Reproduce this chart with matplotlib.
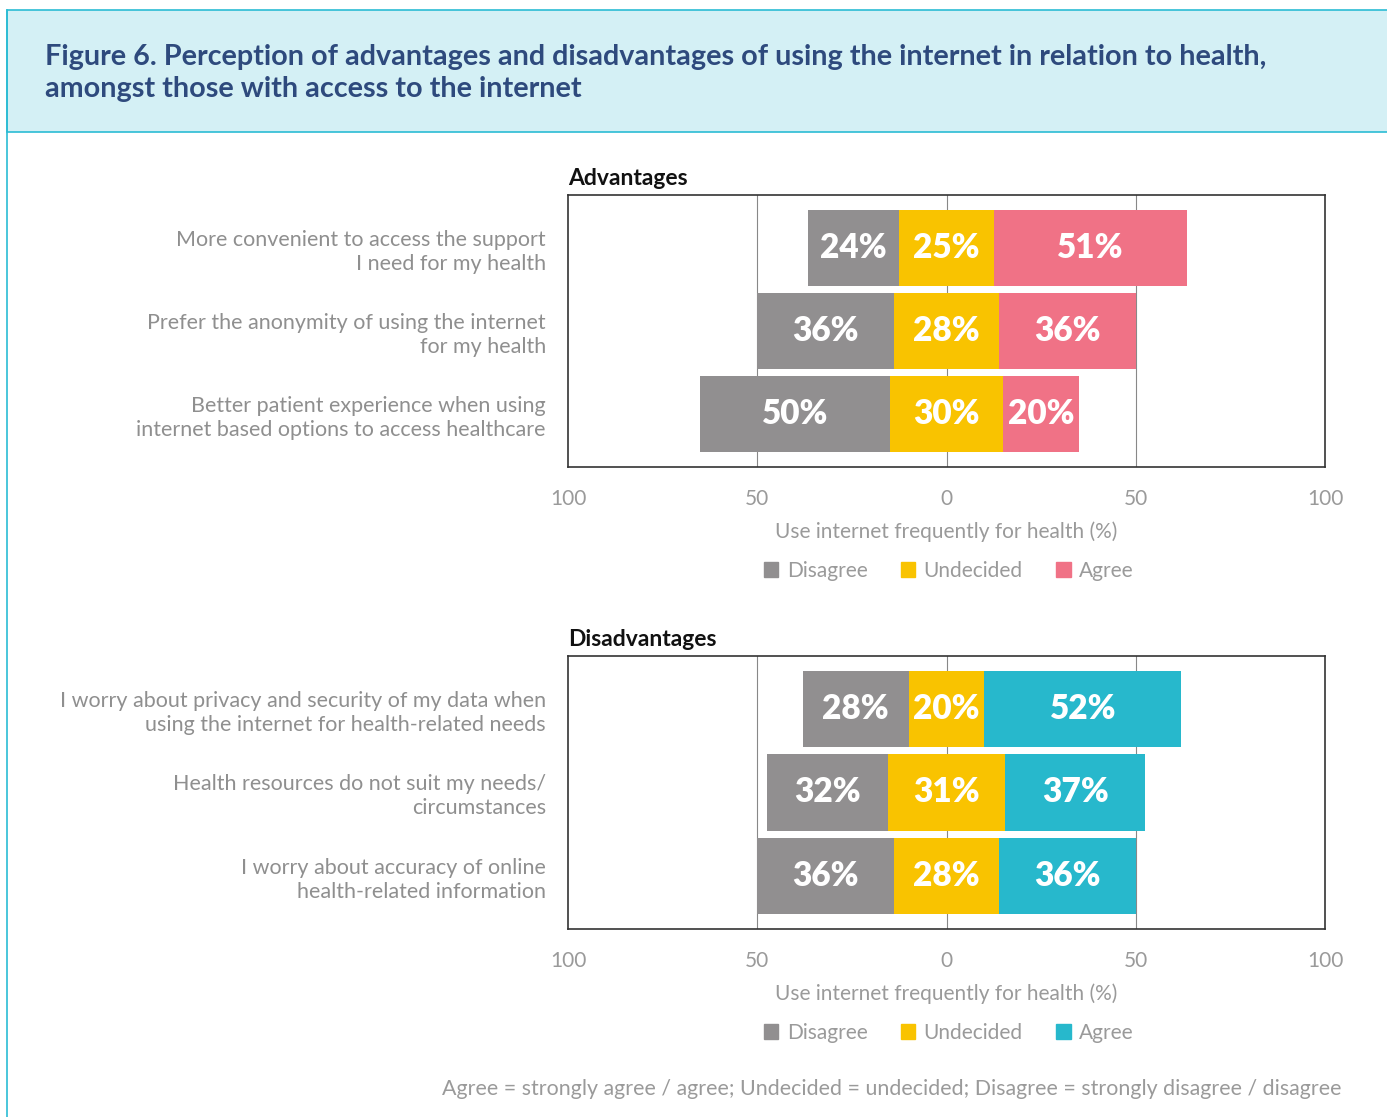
import numpy as np
import matplotlib
matplotlib.use("Agg")
import matplotlib.pyplot as plt
from matplotlib.patches import Rectangle
from matplotlib.lines import Line2D

plt.rcParams['font.family'] = ['Lato', 'DejaVu Sans']

# survey results (%), one entry per statement, top to bottom
adv_items = ["More convenient to access the support\nI need for my health",
             "Prefer the anonymity of using the internet\nfor my health",
             "Better patient experience when using\ninternet based options to access healthcare"]
adv_disagree = [24, 36, 50]
adv_undecided = [25, 28, 30]
adv_agree = [51, 36, 20]

dis_items = ["I worry about privacy and security of my data when\nusing the internet for health-related needs",
             "Health resources do not suit my needs/\ncircumstances",
             "I worry about accuracy of online\nhealth-related information"]
dis_disagree = [28, 32, 36]
dis_undecided = [20, 31, 28]
dis_agree = [52, 37, 36]

tick_vals = [-100, -50, 0, 50, 100]
tick_labels = ["100", "50", "0", "50", "100"]
legend_names = ["Disagree", "Undecided", "Agree"]

GREY = "#918f90"
YELLOW = "#f9c300"
PINK = "#f07286"
CYAN = "#27b8cc"
TEXT_GREY = "#8f8f8f"
TITLE_BLUE = "#2e4a7d"
FRAME = "#2bbcd4"

W, H = 1387, 1117
fig = plt.figure(figsize=(W / 100, H / 100), dpi=100)


def box(x0, y0, x1, y1):
    # pixel box (top-left origin) -> figure fraction rect
    return [x0 / W, 1 - y1 / H, (x1 - x0) / W, (y1 - y0) / H]


# header band and left frame line
fig.patches.append(Rectangle((7 / W, 1 - 132 / H), 1.2, 122 / H,
                             transform=fig.transFigure, facecolor="#d4f0f5",
                             edgecolor=FRAME, linewidth=1.2, zorder=0))
fig.lines.append(Line2D([7 / W, 7 / W], [0, 1 - 10 / H], transform=fig.transFigure,
                        color=FRAME, linewidth=1.2))
fig.text(45 / W, 1 - 73 / H,
         "Figure 6. Perception of advantages and disadvantages of using the internet in relation to health,\n"
         "amongst those with access to the internet",
         fontsize=20.7, fontweight="bold", color=TITLE_BLUE, va="center", ha="left",
         linespacing=1.25)
fig.text(1341 / W, 1 - 1089 / H,
         "Agree = strongly agree / agree; Undecided = undecided; Disagree = strongly disagree / disagree",
         fontsize=15.4, color="#9a9a9a", ha="right", va="center")


def diverging(rect, heading, items, disagree, undecided, agree, agree_color):
    ax = fig.add_axes(rect)
    y = np.arange(len(items))
    dis = np.array(disagree, dtype=float)
    und = np.array(undecided, dtype=float)
    agr = np.array(agree, dtype=float)

    left_und = -und / 2
    left_dis = left_und - dis
    left_agr = und / 2
    h = 0.91
    ax.barh(y, dis, left=left_dis, height=h, color=GREY, zorder=3)
    ax.barh(y, und, left=left_und, height=h, color=YELLOW, zorder=3)
    ax.barh(y, agr, left=left_agr, height=h, color=agree_color, zorder=3)

    for vals, lefts in ((dis, left_dis), (und, left_und), (agr, left_agr)):
        for yi, v, l in zip(y, vals, lefts):
            ax.text(l + v / 2, yi, f"{v:.0f}%", ha="center", va="center",
                    color="white", fontsize=24, fontweight="heavy", zorder=4)

    ax.set_xlim(-100, 100)
    ax.set_ylim(len(items) - 1 + 0.63, -0.63)
    ax.set_yticks(y)
    ax.set_yticklabels(items, fontsize=15.5, color=TEXT_GREY, linespacing=1.25)
    ax.tick_params(axis="y", length=0, pad=16)

    ax.set_xticks(tick_vals)
    ax.set_xticklabels(tick_labels)
    ax.tick_params(axis="x", which="major", length=0, pad=16, labelsize=15,
                   labelcolor="#9a9a9a")
    ax.set_xticks([-50, 0, 50], minor=True)
    ax.tick_params(axis="x", which="minor", length=16, width=0.8, color="#888888")
    for xv in (-50, 0, 50):
        ax.axvline(xv, color="#888888", linewidth=0.8, zorder=1)

    for s in ax.spines.values():
        s.set_color("#333333")
        s.set_linewidth(1.2)

    ax.set_xlabel("Use internet frequently for health (%)", fontsize=15,
                  color="#9a9a9a", labelpad=9)
    ax.text(0, 1.022, heading, transform=ax.transAxes, fontsize=16.5,
            fontweight="bold", color="#111111", ha="left", va="bottom")

    handles = [Rectangle((0, 0), 1, 1, color=c) for c in (GREY, YELLOW, agree_color)]
    ax.legend(handles, legend_names, loc="upper center", bbox_to_anchor=(0.503, -0.275),
              ncol=3, frameon=False, fontsize=15, handlelength=0.7, handleheight=0.7,
              handletextpad=0.4, columnspacing=1.6, labelcolor="#9a9a9a")
    return ax


diverging(box(568, 195, 1325, 467), "Advantages", adv_items,
          adv_disagree, adv_undecided, adv_agree, PINK)
diverging(box(568, 656, 1325, 929), "Disadvantages", dis_items,
          dis_disagree, dis_undecided, dis_agree, CYAN)

fig.savefig("out.png", dpi=100)
